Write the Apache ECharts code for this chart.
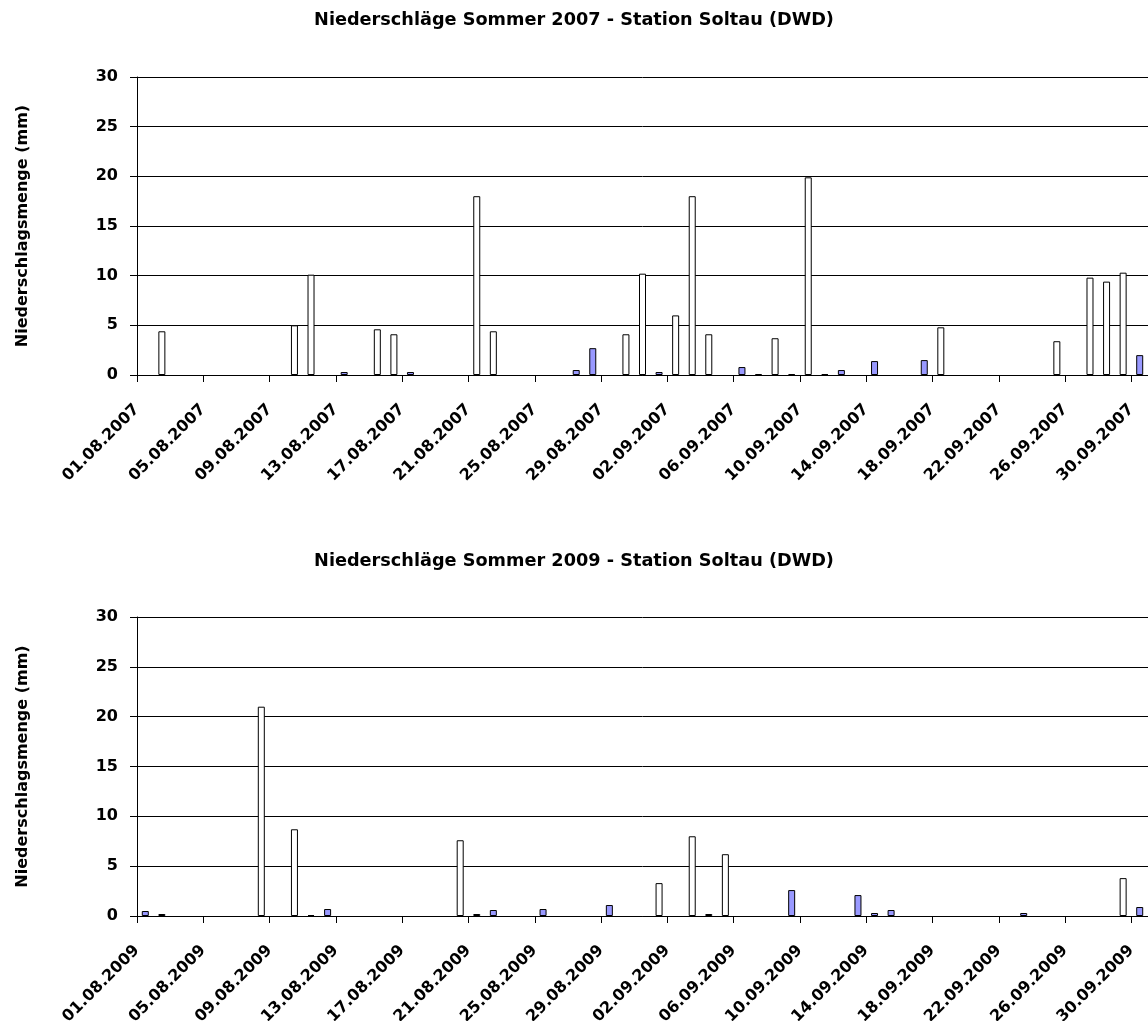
<!DOCTYPE html>
<html>
<head>
<meta charset="utf-8">
<script src="https://cdn.jsdelivr.net/npm/echarts@6/dist/echarts.min.js"></script>
<style>
html,body{margin:0;padding:0;background:#fff;}
#chart{width:1148px;height:1021px;}
</style>
</head>
<body>
<div id="chart"></div>
<script>
// ---- data ----
const title2007 = 'Niederschläge Sommer 2007 - Station Soltau (DWD)';
const title2009 = 'Niederschläge Sommer 2009 - Station Soltau (DWD)';
const yAxisName = 'Niederschlagsmenge (mm)';

const ticks2007 = ['01.08.2007','05.08.2007','09.08.2007','13.08.2007','17.08.2007','21.08.2007','25.08.2007','29.08.2007',
                   '02.09.2007','06.09.2007','10.09.2007','14.09.2007','18.09.2007','22.09.2007','26.09.2007','30.09.2007'];
const ticks2009 = ['01.08.2009','05.08.2009','09.08.2009','13.08.2009','17.08.2009','21.08.2009','25.08.2009','29.08.2009',
                   '02.09.2009','06.09.2009','10.09.2009','14.09.2009','18.09.2009','22.09.2009','26.09.2009','30.09.2009'];

// days 01.08 .. 30.09 (61 days)
const monthDays = [[8, 31], [9, 30]];

// white bars (>= ~3 mm) and blue bars (< 3 mm), one value per day
const white2007 = [
  null,4.4,null,null,null,null,null,null,null,5.0,
  10.1,null,null,null,4.6,4.1,null,null,null,null,
  18.0,4.4,null,null,null,null,null,null,null,4.1,
  10.2,null,6.0,18.0,4.1,null,null,null,3.7,null,
  19.9,null,null,null,null,null,null,null,4.8,null,
  null,null,null,null,null,3.4,null,9.8,9.4,10.3,
  null];
const blue2007 = [
  null,null,null,null,null,null,null,null,null,null,
  null,null,0.3,null,null,null,0.3,null,null,null,
  null,null,null,null,null,null,0.5,2.7,null,null,
  null,0.3,null,null,null,null,0.8,0.1,null,0.1,
  null,0.1,0.5,null,1.4,null,null,1.5,null,null,
  null,null,null,null,null,null,null,null,null,null,
  2.0];
const white2009 = [
  null,null,null,null,null,null,null,21.0,null,8.7,
  null,null,null,null,null,null,null,null,null,7.6,
  null,null,null,null,null,null,null,null,null,null,
  null,3.3,null,8.0,null,6.2,null,null,null,null,
  null,null,null,null,null,null,null,null,null,null,
  null,null,null,null,null,null,null,null,null,3.8,
  null];
const blue2009 = [
  0.5,0.2,null,null,null,null,null,null,null,null,
  0.1,0.7,null,null,null,null,null,null,null,null,
  0.2,0.6,null,null,0.7,null,null,null,1.1,null,
  null,null,null,null,0.2,null,null,null,null,2.6,
  null,null,null,2.1,0.3,0.6,null,null,null,null,
  null,null,null,0.3,null,null,null,null,null,null,
  0.9];

// ---- build ----
const categories = [];
monthDays.forEach(([m, n]) => {
  for (let d = 1; d <= n; d++) categories.push(String(d).padStart(2,'0') + '.' + String(m).padStart(2,'0'));
});

const FONT = 'DejaVu Sans';
const grids = [
  {left: 137, top: 77, right: 0, height: 298, containLabel: false, outerBoundsMode: 'none'},
  {left: 137, top: 617, right: 0, height: 299, containLabel: false, outerBoundsMode: 'none'}
];

const xAxes = [], yAxes = [], series = [];
function panel(gi, whites, blues, ticks) {
  // category axis carrying bars
  xAxes.push({
    type: 'category', gridIndex: gi, data: categories, boundaryGap: true, position: 'bottom',
    axisLine: {show: true, onZero: false, lineStyle: {color: '#000', width: 1}},
    axisTick: {show: false}, axisLabel: {show: false}, splitLine: {show: false}
  });
  // day-number axis for ticks and labels at day boundaries
  xAxes.push({
    type: 'value', gridIndex: gi, min: 0, max: categories.length, interval: 4, position: 'bottom',
    axisLine: {show: false},
    axisTick: {show: true, length: 7, lineStyle: {color: '#000', width: 1}},
    splitLine: {show: false},
    axisLabel: {
      show: true, rotate: 45, margin: 32, color: '#000',
      fontFamily: FONT, fontWeight: 'bold', fontSize: 16,
      showMaxLabel: false,
      formatter: v => (v % 4 === 0 && ticks[v / 4] !== undefined) ? ticks[v / 4] : ''
    }
  });
  yAxes.push({
    type: 'value', gridIndex: gi, min: 0, max: 30, interval: 5,
    name: yAxisName, nameLocation: 'middle', nameGap: 106, nameRotate: 90,
    nameTextStyle: {fontFamily: FONT, fontWeight: 'bold', fontSize: 16, color: '#000'},
    axisLine: {show: true, lineStyle: {color: '#000', width: 1}},
    axisTick: {show: true, length: 7, lineStyle: {color: '#000', width: 1}},
    axisLabel: {margin: 19, color: '#000', fontFamily: FONT, fontWeight: 'bold', fontSize: 16},
    splitLine: {show: true, lineStyle: {color: '#000', width: 1}}
  });
  const xi = gi * 2;
  series.push({
    type: 'bar', xAxisIndex: xi, yAxisIndex: gi, data: whites, barWidth: 7, barGap: '-100%',
    itemStyle: {color: '#ffffff', borderColor: '#000', borderWidth: 1}, silent: true
  });
  series.push({
    type: 'bar', xAxisIndex: xi, yAxisIndex: gi, data: blues, barWidth: 7, barGap: '-100%',
    itemStyle: {color: '#9999ff', borderColor: '#000', borderWidth: 1}, silent: true
  });
}
panel(0, white2007, blue2007, ticks2007);
panel(1, white2009, blue2009, ticks2009);

const chart = echarts.init(document.getElementById('chart'), null, {renderer: 'canvas'});
chart.setOption({
  animation: false,
  backgroundColor: '#fff',
  title: [
    {text: title2007, left: 'center', top: 11, padding: 0,
     textStyle: {fontFamily: FONT, fontWeight: 'bold', fontSize: 17.7, color: '#000'}},
    {text: title2009, left: 'center', top: 552, padding: 0,
     textStyle: {fontFamily: FONT, fontWeight: 'bold', fontSize: 17.7, color: '#000'}}
  ],
  grid: grids,
  xAxis: xAxes,
  yAxis: yAxes,
  series: series
});
</script>
</body>
</html>
